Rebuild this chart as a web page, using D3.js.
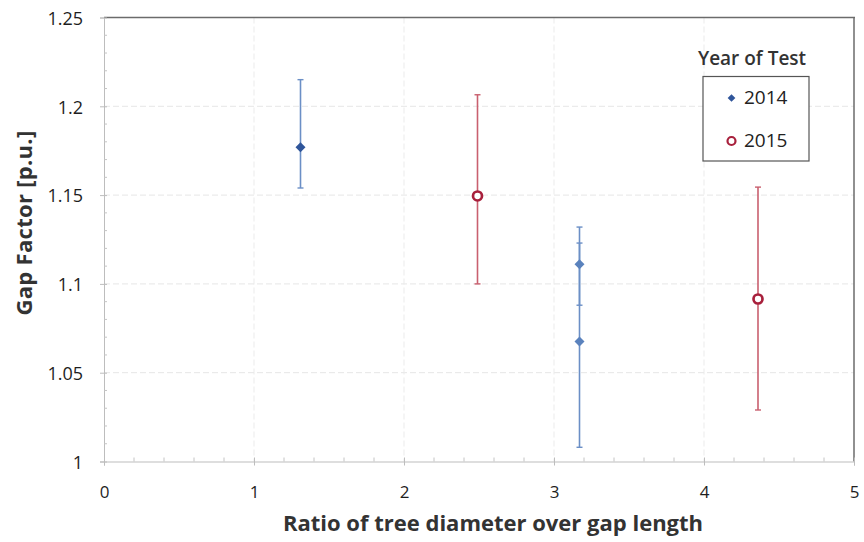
<!DOCTYPE html>
<html>
<head>
<meta charset="utf-8">
<script src="https://cdn.jsdelivr.net/npm/d3@7"></script>
<style>
  html, body { margin: 0; padding: 0; background: #fff; }
  svg { display: block; font-family: "Open Sans", "Liberation Sans", sans-serif; }
</style>
</head>
<body>
<svg id="chart" width="864" height="542"></svg>
<script>
// Gap factor measurements per test year: ratio, value, error-bar low / high
const ratio2014 = [1.31, 3.17, 3.17];
const gap2014   = [1.177, 1.111, 1.0675];
const low2014   = [1.154, 1.088, 1.008];
const high2014  = [1.215, 1.132, 1.123];

const ratio2015 = [2.49, 4.36];
const gap2015   = [1.1495, 1.0915];
const low2015   = [1.100, 1.029];
const high2015  = [1.2065, 1.1545];

const xTicks = [0, 1, 2, 3, 4, 5];
const yTicks = [1, 1.05, 1.1, 1.15, 1.2, 1.25];
const yTickLabels = ["1", "1.05", "1.1", "1.15", "1.2", "1.25"];
const seriesNames = ["2014", "2015"];

const svg = d3.select("#chart");
const plotL = 104, plotR = 854, plotT = 17.5, plotB = 461.5;

const x = d3.scaleLinear().domain([0, 5]).range([plotL, plotR]);
const y = d3.scaleLinear().domain([1, 1.25]).range([plotB, plotT]);

// grid lines
const grid = svg.append("g");
grid.selectAll("line.gy").data(yTicks.slice(1, -1)).join("line")
  .attr("x1", plotL).attr("x2", plotR)
  .attr("y1", d => y(d)).attr("y2", d => y(d))
  .attr("stroke", "#e6e6e6").attr("stroke-width", 1).attr("stroke-dasharray", "6,3");
grid.selectAll("line.gx").data(xTicks.slice(1, -1)).join("line")
  .attr("y1", plotT).attr("y2", plotB)
  .attr("x1", d => x(d)).attr("x2", d => x(d))
  .attr("stroke", "#ebebeb").attr("stroke-width", 1).attr("stroke-dasharray", "6,3");

// top and right frame
svg.append("line").attr("x1", plotL).attr("x2", plotR + 1).attr("y1", plotT).attr("y2", plotT)
  .attr("stroke", "#6b6b6b").attr("stroke-width", 1.5);
svg.append("line").attr("x1", plotR).attr("x2", plotR).attr("y1", plotT).attr("y2", plotB)
  .attr("stroke", "#6b6b6b").attr("stroke-width", 1.5);

// y axis with minor ticks
const yAxisG = svg.append("g").attr("transform", `translate(${plotL},0)`);
yAxisG.call(d3.axisLeft(y).tickValues(yTicks).tickSize(4).tickFormat((d, i) => yTickLabels[i]));
yAxisG.select(".domain").attr("stroke", "#bdbdbd");
yAxisG.selectAll(".tick line").attr("stroke", "#bdbdbd").attr("x2", 3).attr("x1", -4);
yAxisG.selectAll(".tick text").attr("x", -21).attr("dy", "0.38em").attr("font-size", 18).attr("fill", "#1e1e1e")
  .attr("font-family", "Open Sans, sans-serif");
const yMinor = d3.range(1.0, 1.2501, 0.01).filter(v => Math.abs(v * 20 - Math.round(v * 20)) > 1e-6);
yAxisG.selectAll("line.minor").data(yMinor).join("line")
  .attr("x1", 0).attr("x2", 3).attr("y1", d => y(d)).attr("y2", d => y(d))
  .attr("stroke", "#c4c4c4");

// x axis with minor ticks
const xAxisG = svg.append("g").attr("transform", `translate(0,${plotB})`);
xAxisG.call(d3.axisBottom(x).tickValues(xTicks).tickSize(4).tickFormat(d3.format("d")));
xAxisG.select(".domain").attr("stroke", "#bdbdbd");
xAxisG.selectAll(".tick line").attr("stroke", "#bdbdbd").attr("y1", -4).attr("y2", 4);
xAxisG.selectAll(".tick text").attr("y", 24).attr("font-size", 17).attr("fill", "#1e1e1e")
  .attr("font-family", "Open Sans, sans-serif");
const xMinor = d3.range(0, 5.0001, 0.2).filter(v => Math.abs(v - Math.round(v)) > 1e-6);
xAxisG.selectAll("line.minor").data(xMinor).join("line")
  .attr("y1", 0).attr("y2", -4).attr("x1", d => x(d)).attr("x2", d => x(d))
  .attr("stroke", "#c4c4c4");

// axis titles
svg.append("text").attr("x", 493).attr("y", 531)
  .attr("text-anchor", "middle").attr("font-size", 22).attr("font-weight", 700)
  .attr("fill", "#333")
  .text("Ratio of tree diameter over gap length");
svg.append("text").attr("transform", "translate(32,223) rotate(-90)")
  .attr("text-anchor", "middle").attr("font-size", 22).attr("font-weight", 700)
  .attr("letter-spacing", 0.3).attr("fill", "#333")
  .text("Gap Factor [p.u.]");

// error bars
function errorBars(xs, lows, highs, color) {
  const g = svg.append("g");
  const rows = xs.map((v, i) => ({ x: v, lo: lows[i], hi: highs[i] }));
  g.selectAll("line.stem").data(rows).join("line")
    .attr("x1", d => x(d.x)).attr("x2", d => x(d.x))
    .attr("y1", d => y(d.lo)).attr("y2", d => y(d.hi))
    .attr("stroke", color).attr("stroke-width", 1.6);
  ["lo", "hi"].forEach(k => {
    g.selectAll("line.cap" + k).data(rows).join("line")
      .attr("x1", d => x(d.x) - 3).attr("x2", d => x(d.x) + 3)
      .attr("y1", d => y(d[k])).attr("y2", d => y(d[k]))
      .attr("stroke", color).attr("stroke-width", 1.4);
  });
}
errorBars(ratio2014, low2014, high2014, "#6b8fc6");
errorBars(ratio2015, low2015, high2015, "#c9606f");

// 2014 markers: filled diamonds
const diamondColors = ["#2f559a", "#5a82bd", "#5a82bd"];
svg.append("g").selectAll("path").data(ratio2014.map((v, i) => [v, gap2014[i], i])).join("path")
  .attr("d", d3.symbol().type(d3.symbolSquare).size(50))
  .attr("transform", d => `translate(${x(d[0])},${y(d[1])}) rotate(45)`)
  .attr("fill", d => diamondColors[d[2]]);

// 2015 markers: open circles
svg.append("g").selectAll("circle").data(ratio2015.map((v, i) => [v, gap2015[i]])).join("circle")
  .attr("cx", d => x(d[0])).attr("cy", d => y(d[1])).attr("r", 4.5)
  .attr("fill", "#fff").attr("stroke", "#a8203c").attr("stroke-width", 2.7);

// legend
const lg = svg.append("g");
lg.append("text").attr("x", 752).attr("y", 65).attr("text-anchor", "middle")
  .attr("font-size", 19).attr("font-weight", 600).attr("fill", "#333").text("Year of Test");
lg.append("rect").attr("x", 703).attr("y", 76.5).attr("width", 106).attr("height", 84.5)
  .attr("fill", "#fff").attr("stroke", "#555").attr("stroke-width", 1.2);
lg.append("path").attr("d", d3.symbol().type(d3.symbolSquare).size(30)())
  .attr("transform", "translate(731.5,98) rotate(45)").attr("fill", "#2f559a");
lg.append("circle").attr("cx", 731.5).attr("cy", 141).attr("r", 4)
  .attr("fill", "#fff").attr("stroke", "#a8203c").attr("stroke-width", 2.2);
lg.selectAll("text.item").data(seriesNames).join("text")
  .attr("x", 744).attr("y", (d, i) => 104 + i * 43)
  .attr("font-size", 19).attr("fill", "#222").text(d => d);
</script>
</body>
</html>
